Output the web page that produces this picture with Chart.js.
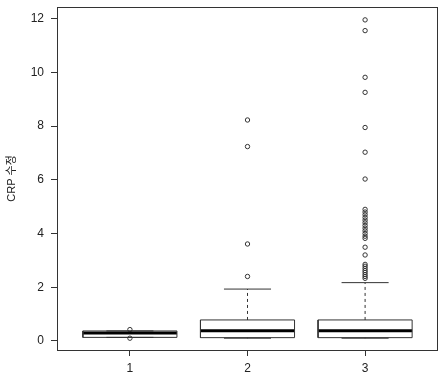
<!DOCTYPE html>
<html><head><meta charset="utf-8">
<script src="https://cdn.jsdelivr.net/npm/chart.js@4"></script>
<style>html,body{margin:0;padding:0;background:#fff}</style>
</head><body>
<canvas id="c" width="447" height="385"></canvas>
<script>
const categories = [1, 2, 3];
const whiskerLow  = [0.13, 0.10, 0.10];
const q1          = [0.13, 0.12, 0.12];
const median      = [0.29, 0.38, 0.38];
const q3          = [0.37, 0.78, 0.78];
const whiskerHigh = [0.37, 1.93, 2.17];
const outliers1 = [0.10, 0.42];
const outliers2 = [2.40, 3.61, 7.24, 8.23];
const outliers3 = [2.33, 2.40, 2.47, 2.55, 2.62, 2.70, 2.78, 2.85, 3.20, 3.49,
                   3.82, 3.90, 4.00, 4.10, 4.20, 4.30, 4.40, 4.50, 4.60, 4.70, 4.80, 4.90,
                   6.03, 7.03, 7.95, 9.26, 9.82, 11.56, 11.96];
const outlierGroups = [outliers1, outliers2, outliers3];
const yTicks = [0, 2, 4, 6, 8, 10, 12];
const xTicks = [1, 2, 3];
const yTitle = 'CRP 수정';

const BOX_HALF = 0.4, CAP_HALF = 0.2;
const INK = '#333';
const FONT = 'Liberation Sans, Arial, "Noto Sans CJK KR", sans-serif';

function lineDs(points, extra) {
  return Object.assign({
    data: points, showLine: true, pointRadius: 0, borderColor: INK,
    borderWidth: 1, tension: 0, fill: false
  }, extra || {});
}

const datasets = [];
categories.forEach((c, i) => {
  datasets.push(lineDs([
    {x: c - BOX_HALF, y: q1[i]}, {x: c + BOX_HALF, y: q1[i]},
    {x: c + BOX_HALF, y: q3[i]}, {x: c - BOX_HALF, y: q3[i]},
    {x: c - BOX_HALF, y: q1[i]}
  ], {borderJoinStyle: 'round'}));
  datasets.push(lineDs([{x: c - BOX_HALF, y: median[i]}, {x: c + BOX_HALF, y: median[i]}], {borderWidth: 3, borderColor: '#000'}));
  datasets.push(lineDs([{x: c, y: q3[i]}, {x: c, y: whiskerHigh[i]}], {borderDash: [3, 3]}));
  datasets.push(lineDs([{x: c, y: q1[i]}, {x: c, y: whiskerLow[i]}], {borderDash: [3, 3]}));
  datasets.push(lineDs([{x: c - CAP_HALF, y: whiskerHigh[i]}, {x: c + CAP_HALF, y: whiskerHigh[i]}]));
  datasets.push(lineDs([{x: c - CAP_HALF, y: whiskerLow[i]}, {x: c + CAP_HALF, y: whiskerLow[i]}]));
  datasets.push({
    data: outlierGroups[i].map(v => ({x: c, y: v})),
    showLine: false, pointRadius: 2.2, pointBorderWidth: 1,
    pointBorderColor: INK, pointBackgroundColor: 'rgba(0,0,0,0)'
  });
});

const frame = {
  id: 'frame',
  afterDraw(chart) {
    const a = chart.chartArea, ctx = chart.ctx;
    ctx.save();
    ctx.strokeStyle = INK; ctx.lineWidth = 1;
    ctx.strokeRect(Math.round(a.left) + 0.5, Math.round(a.top) + 0.5,
                   Math.round(a.right - a.left) - 1, Math.round(a.bottom - a.top));
    ctx.restore();
  }
};

new Chart(document.getElementById('c'), {
  type: 'scatter',
  data: { datasets },
  plugins: [frame],
  options: {
    responsive: false, animation: false,
    layout: { padding: { top: 0, right: 9, left: 0, bottom: 0 } },
    plugins: { legend: { display: false }, tooltip: { enabled: false } },
    scales: {
      x: {
        type: 'linear', min: 0.38, max: 3.62,
        afterBuildTicks: s => { s.ticks = xTicks.map(v => ({value: v})); },
        afterFit: s => { s.height = 35; },
        grid: { drawOnChartArea: false, tickLength: 6, color: INK },
        border: { display: false },
        ticks: { padding: 5, color: '#222', maxRotation: 0, font: { family: FONT, size: 12 } }
      },
      y: {
        type: 'linear', min: -0.34, max: 12.44,
        afterBuildTicks: s => { s.ticks = yTicks.map(v => ({value: v})); },
        afterFit: s => { s.width = 57; s.paddingTop = 7; },
        grid: { drawOnChartArea: false, tickLength: 6, color: INK },
        border: { display: false },
        ticks: { padding: 7, color: '#222', font: { family: FONT, size: 12 } },
        title: { display: true, text: yTitle, color: '#222', padding: { top: 5, bottom: 0 },
                 font: { family: FONT, size: 11 } }
      }
    }
  }
});
</script>
</body></html>
